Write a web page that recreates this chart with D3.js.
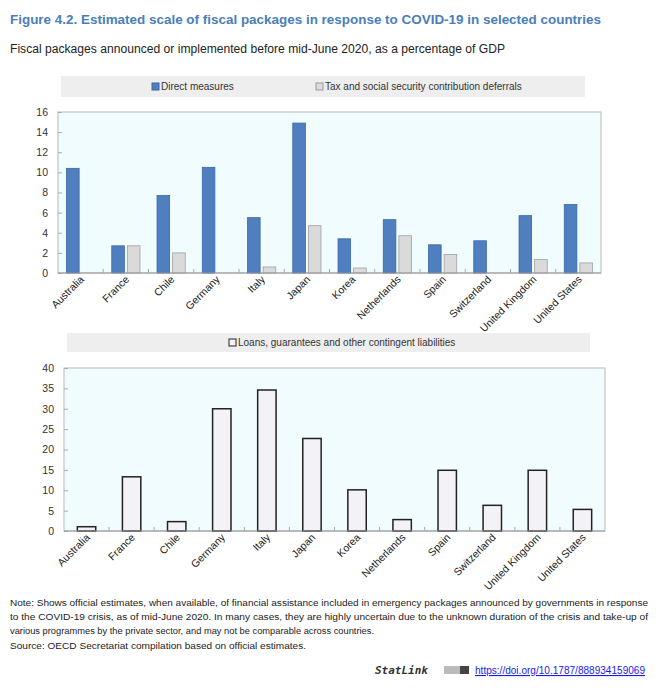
<!DOCTYPE html>
<html>
<head>
<meta charset="utf-8">
<script src="https://cdn.jsdelivr.net/npm/d3@7/dist/d3.min.js"></script>
<style>
  body { margin: 0; background: #fff; }
  svg text { font-family: "Liberation Sans Narrow", "Arial Narrow", "Liberation Sans", Arial, sans-serif; }
</style>
</head>
<body>
<svg id="chart" width="661" height="691"></svg>
<script>
const countries = ['Australia', 'France', 'Chile', 'Germany', 'Italy', 'Japan', 'Korea',
  'Netherlands', 'Spain', 'Switzerland', 'United Kingdom', 'United States']
const directMeasures = [10.4, 2.7, 7.7, 10.5, 5.5, 14.9, 3.4, 5.3, 2.8, 3.2, 5.7, 6.8]
const taxDeferrals = [0, 2.7, 2.0, 0, 0.6, 4.7, 0.5, 3.7, 1.85, 0, 1.35, 1.0]
const loans = [1.05, 13.3, 2.3, 30.0, 34.6, 22.7, 10.1, 2.8, 14.9, 6.3, 14.9, 5.3]
const topTicks = [0, 2, 4, 6, 8, 10, 12, 14, 16]
const bottomTicks = [0, 5, 10, 15, 20, 25, 30, 35, 40]

const noteLines = [
  'Note: Shows official estimates, when available, of financial assistance included in emergency packages announced by governments in response',
  'to the COVID-19 crisis, as of mid-June 2020. In many cases, they are highly uncertain due to the unknown duration of the crisis and take-up of',
  'various programmes by the private sector, and may not be comparable across countries.',
  'Source: OECD Secretariat compilation based on official estimates.'
]
const noteWidths = [638, 638, 364, 296]

const svg = d3.select('#chart')

// titles
svg.append('text')
  .attr('x', 10).attr('y', 24)
  .attr('fill', '#4a7ebb')
  .attr('font-weight', 'bold')
  .attr('font-size', 13.4)
  .attr('textLength', 591).attr('lengthAdjust', 'spacingAndGlyphs')
  .text('Figure 4.2. Estimated scale of fiscal packages in response to COVID-19 in selected countries')

svg.append('text')
  .attr('x', 10).attr('y', 53)
  .attr('fill', '#222')
  .attr('font-size', 12.5)
  .attr('textLength', 495).attr('lengthAdjust', 'spacingAndGlyphs')
  .text('Fiscal packages announced or implemented before mid-June 2020, as a percentage of GDP')

function drawPanel (opt) {
  let g = svg.append('g')
  let x = d3.scaleBand().domain(countries).range([opt.x0, opt.x1])
  let y = d3.scaleLinear().domain([opt.ticks[0], opt.ticks[opt.ticks.length - 1]]).range([opt.y1, opt.y0])

  // legend strip
  g.append('rect')
    .attr('x', opt.legend.x0).attr('y', opt.legend.y0)
    .attr('width', opt.legend.x1 - opt.legend.x0)
    .attr('height', opt.legend.y1 - opt.legend.y0)
    .attr('fill', '#eeeeee')
  opt.legend.items.forEach(it => {
    let cy = (opt.legend.y0 + opt.legend.y1) / 2
    g.append('rect')
      .attr('x', it.x).attr('y', cy - 3.5)
      .attr('width', 7).attr('height', 7)
      .attr('fill', it.fill).attr('stroke', it.stroke).attr('stroke-width', 1)
    g.append('text')
      .attr('x', it.x + 9).attr('y', cy + 3.5)
      .attr('font-size', 10).attr('fill', '#333')
      .text(it.label)
  })

  // plot background
  g.append('rect')
    .attr('x', opt.x0).attr('y', opt.y0)
    .attr('width', opt.x1 - opt.x0).attr('height', opt.y1 - opt.y0)
    .attr('fill', '#f0fcfd')
    .attr('stroke', '#c4c4c4').attr('stroke-width', 1.2)

  // y axis
  let yAxis = d3.axisLeft(y).tickValues(opt.ticks).tickSize(-4).tickPadding(10)
  let ya = g.append('g').attr('transform', `translate(${opt.x0},0)`).call(yAxis)
  ya.select('.domain').remove()
  ya.selectAll('line').attr('stroke', '#aaa')
  ya.selectAll('text').attr('font-size', 10.5).attr('fill', '#333')
    .style('font-family', '"Liberation Sans Narrow", "Liberation Sans", Arial, sans-serif')

  // bars
  opt.series.forEach((s, si) => {
    g.selectAll('rect.s' + si)
      .data(s.values)
      .enter().append('rect')
      .attr('class', 's' + si)
      .attr('x', (d, i) => x(countries[i]) + (x.bandwidth() - opt.barW * opt.series.length - opt.gap * (opt.series.length - 1)) / 2 + si * (opt.barW + opt.gap))
      .attr('y', d => y(d))
      .attr('width', opt.barW)
      .attr('height', d => y(0) - y(d))
      .attr('fill', s.fill)
      .attr('stroke', s.stroke)
      .attr('stroke-width', s.sw)
      .attr('display', d => d > 0 ? null : 'none')
  })

  // baseline and category ticks
  g.append('line')
    .attr('x1', opt.x0).attr('x2', opt.x1)
    .attr('y1', y(0)).attr('y2', y(0))
    .attr('stroke', '#999').attr('stroke-width', 1.2)
  g.selectAll('line.ct')
    .data(countries.slice(1))
    .enter().append('line')
    .attr('class', 'ct')
    .attr('x1', d => x(d)).attr('x2', d => x(d))
    .attr('y1', y(0)).attr('y2', y(0) - 4)
    .attr('stroke', '#aaa')

  // category labels
  g.selectAll('text.cat')
    .data(countries)
    .enter().append('text')
    .attr('class', 'cat')
    .attr('text-anchor', 'end')
    .attr('font-size', 10.5).attr('fill', '#222')
    .attr('transform', d => `translate(${x(d) + x.bandwidth() / 2 + 4},${y(0) + 7}) rotate(-45)`)
    .text(d => d)
}

drawPanel({
  x0: 58, x1: 601, y0: 112, y1: 273,
  ticks: topTicks,
  barW: 12.6, gap: 3,
  legend: {
    x0: 61, x1: 585, y0: 76, y1: 97,
    items: [
      { x: 152, fill: '#4f7fbe', stroke: '#3a64a0', label: 'Direct measures' },
      { x: 316, fill: '#dcdcdc', stroke: '#999', label: 'Tax and social security contribution deferrals' }
    ]
  },
  series: [
    { values: directMeasures, fill: '#4f7fbe', stroke: '#3b67a6', sw: 0.8 },
    { values: taxDeferrals, fill: '#dadada', stroke: '#a0a0a0', sw: 0.8 }
  ]
})

drawPanel({
  x0: 64, x1: 605, y0: 368, y1: 531,
  ticks: bottomTicks,
  barW: 18.4, gap: 0,
  legend: {
    x0: 67, x1: 590, y0: 333, y1: 352,
    items: [
      { x: 229, fill: '#f4f4f8', stroke: '#222', label: 'Loans, guarantees and other contingent liabilities' }
    ]
  },
  series: [
    { values: loans, fill: '#f3f3f7', stroke: '#222', sw: 1.5 }
  ]
})

// notes
svg.selectAll('text.note')
  .data(noteLines)
  .enter().append('text')
  .attr('class', 'note')
  .attr('x', 10)
  .attr('y', (d, i) => 606 + i * 14.2)
  .attr('font-size', 9.2).attr('fill', '#222')
  .attr('textLength', (d, i) => noteWidths[i]).attr('lengthAdjust', 'spacingAndGlyphs')
  .text(d => d)

// StatLink
svg.append('text')
  .attr('x', 375).attr('y', 674)
  .attr('font-size', 11).attr('font-weight', 'bold').attr('font-style', 'italic')
  .attr('fill', '#333')
  .style('font-family', '"DejaVu Sans Mono", monospace')
  .text('StatLink')
let icon = svg.append('g').attr('transform', 'translate(444,666)')
icon.append('rect').attr('width', 16).attr('height', 8).attr('fill', '#bbb')
icon.append('rect').attr('x', 16).attr('width', 9).attr('height', 8).attr('fill', '#444')
svg.append('text')
  .attr('x', 475).attr('y', 674)
  .attr('font-size', 11).attr('fill', '#1a1aee')
  .attr('text-decoration', 'underline')
  .attr('textLength', 170).attr('lengthAdjust', 'spacingAndGlyphs')
  .text('https://doi.org/10.1787/888934159069')
</script>
</body>
</html>
